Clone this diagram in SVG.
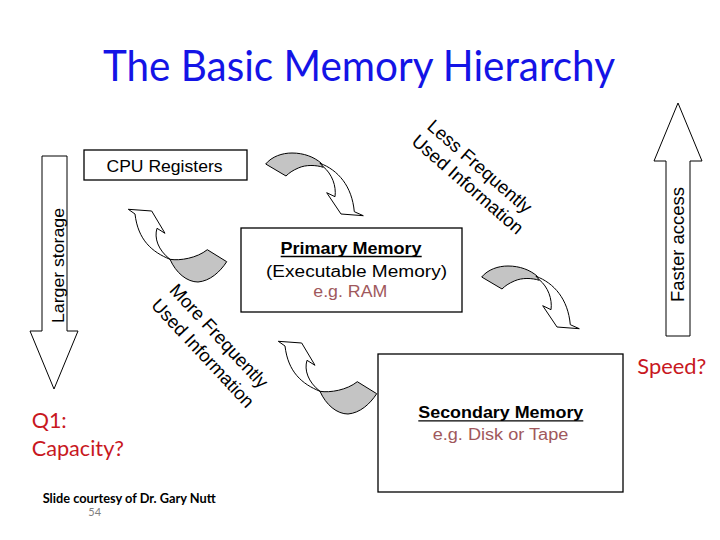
<svg xmlns="http://www.w3.org/2000/svg" width="720" height="540" viewBox="0 0 720 540">
<style>
.box{fill:#fff;stroke:#000;stroke-width:1.3}
.arr{fill:#fff;stroke:#000;stroke-width:1}
.gray{fill:#c4c4c4;stroke:#000;stroke-width:1}
.white{fill:#fff;stroke:#000;stroke-width:1}
.ar{font-family:"Liberation Sans",Arial,sans-serif;fill:#000}
.cal{font-family:Lato,"Open Sans",sans-serif}
.red{fill:#c8181e}
.brown{fill:#a0585c}
.wa{font-family:"Liberation Sans",Arial,sans-serif;font-size:18.5px;fill:#000}
</style>
<defs>
<g id="curveA">
<path class="gray" d="M265.7,164 C272,156.5 282,153 292,153 C304,153 314,157 321,163 L323.3,167.3 C316,165 306,164.5 298.3,168 C292.5,170.5 289,173 286,176 Z"/>
<path class="white" d="M320,163.3 C338,170 352,186 354.3,211.7 L363.3,215.7 L341,214 L326.7,192.7 L335,196.7 C336.5,186 332,174 323.3,166.7 Z"/>
</g>
<g id="curveB">
<path class="white" d="M128.3,209.3 L151.7,211 L165,233.3 L157,228.3 C154,238 158,250 170,259.3 C152,252 138,240 135,214 Z"/>
<path class="gray" d="M170,259.3 C180,261 197,258 207.3,249.7 L226.7,261.7 C220,272 210,281 198,282 C187,282 176,273 170,259.3 Z"/>
</g>
</defs>
<rect width="720" height="540" fill="#fff"/>

<g id="title">
<text class="cal" x="103" y="81" font-size="42" fill="#1414e6" textLength="512" lengthAdjust="spacingAndGlyphs">The Basic Memory Hierarchy</text>
</g>

<g id="larger-storage">
<path class="arr" d="M42,156 L67,156 L67,331 L78,331 L54,389 L30,331 L42,331 Z"/>
<text class="ar" transform="translate(64,265.5) rotate(-90)" text-anchor="middle" font-size="16.5" textLength="115" lengthAdjust="spacingAndGlyphs">Larger storage</text>
</g>

<g id="faster-access">
<path class="arr" d="M666,336 L666,161 L654,161 L678,103 L702,161 L690,161 L690,336 Z"/>
<text class="ar" transform="translate(683.5,244.5) rotate(-90)" text-anchor="middle" font-size="17.5" textLength="115" lengthAdjust="spacingAndGlyphs">Faster access</text>
</g>

<g id="cpu-registers">
<rect class="box" x="84" y="150" width="163" height="30"/>
<text class="ar" x="164.5" y="171.7" text-anchor="middle" font-size="17" textLength="116" lengthAdjust="spacingAndGlyphs">CPU Registers</text>
</g>

<g id="primary-memory">
<rect class="box" x="241" y="228" width="221" height="84"/>
<text class="ar" x="351" y="254" text-anchor="middle" font-size="16.5" font-weight="bold" textLength="141" lengthAdjust="spacingAndGlyphs">Primary Memory</text>
<line x1="280.7" y1="256.5" x2="421.7" y2="256.5" stroke="#000" stroke-width="1.3"/>
<text class="ar" x="356.5" y="276.7" text-anchor="middle" font-size="16" textLength="181" lengthAdjust="spacingAndGlyphs">(Executable Memory)</text>
<text class="ar brown" x="350.3" y="297.3" text-anchor="middle" font-size="16" textLength="74" lengthAdjust="spacingAndGlyphs">e.g. RAM</text>
</g>

<g id="secondary-memory">
<rect class="box" x="378" y="354" width="245" height="138"/>
<text class="ar" x="500.8" y="418.3" text-anchor="middle" font-size="16.5" font-weight="bold" textLength="165" lengthAdjust="spacingAndGlyphs">Secondary Memory</text>
<line x1="418.3" y1="420.8" x2="583.3" y2="420.8" stroke="#000" stroke-width="1.3"/>
<text class="ar brown" x="500.5" y="440" text-anchor="middle" font-size="16" textLength="135.6" lengthAdjust="spacingAndGlyphs">e.g. Disk or Tape</text>
</g>

<g id="connectors">
<use href="#curveA"/>
<use href="#curveA" transform="translate(216,113)"/>
<use href="#curveB"/>
<use href="#curveB" transform="translate(150,132)"/>
</g>

<g id="less-frequently">
<g transform="translate(426,128) rotate(41)">
<text class="wa" x="0" y="0">Less Frequently</text>
<text class="wa" x="-2" y="21.5">Used Information</text>
</g>
</g>

<g id="more-frequently">
<g transform="translate(168.5,291) rotate(47)">
<text class="wa" x="0" y="0">More Frequently</text>
<text class="wa" x="-1.5" y="23.5">Used Information</text>
</g>
</g>

<g id="notes">
<text class="cal red" x="637.3" y="374.3" font-size="21" textLength="69" lengthAdjust="spacingAndGlyphs">Speed?</text>
<text class="cal red" x="31.7" y="428.3" font-size="21.5">Q1:</text>
<text class="cal red" x="31.7" y="456" font-size="21.5" textLength="92.3" lengthAdjust="spacingAndGlyphs">Capacity?</text>
<text class="cal" x="42.7" y="502.7" font-size="12.5" fill="#000" font-weight="bold" textLength="173" lengthAdjust="spacingAndGlyphs">Slide courtesy of Dr. Gary Nutt</text>
<text class="cal" x="88.3" y="515.5" font-size="11" fill="#7f7f7f">54</text>
</g>
</svg>
